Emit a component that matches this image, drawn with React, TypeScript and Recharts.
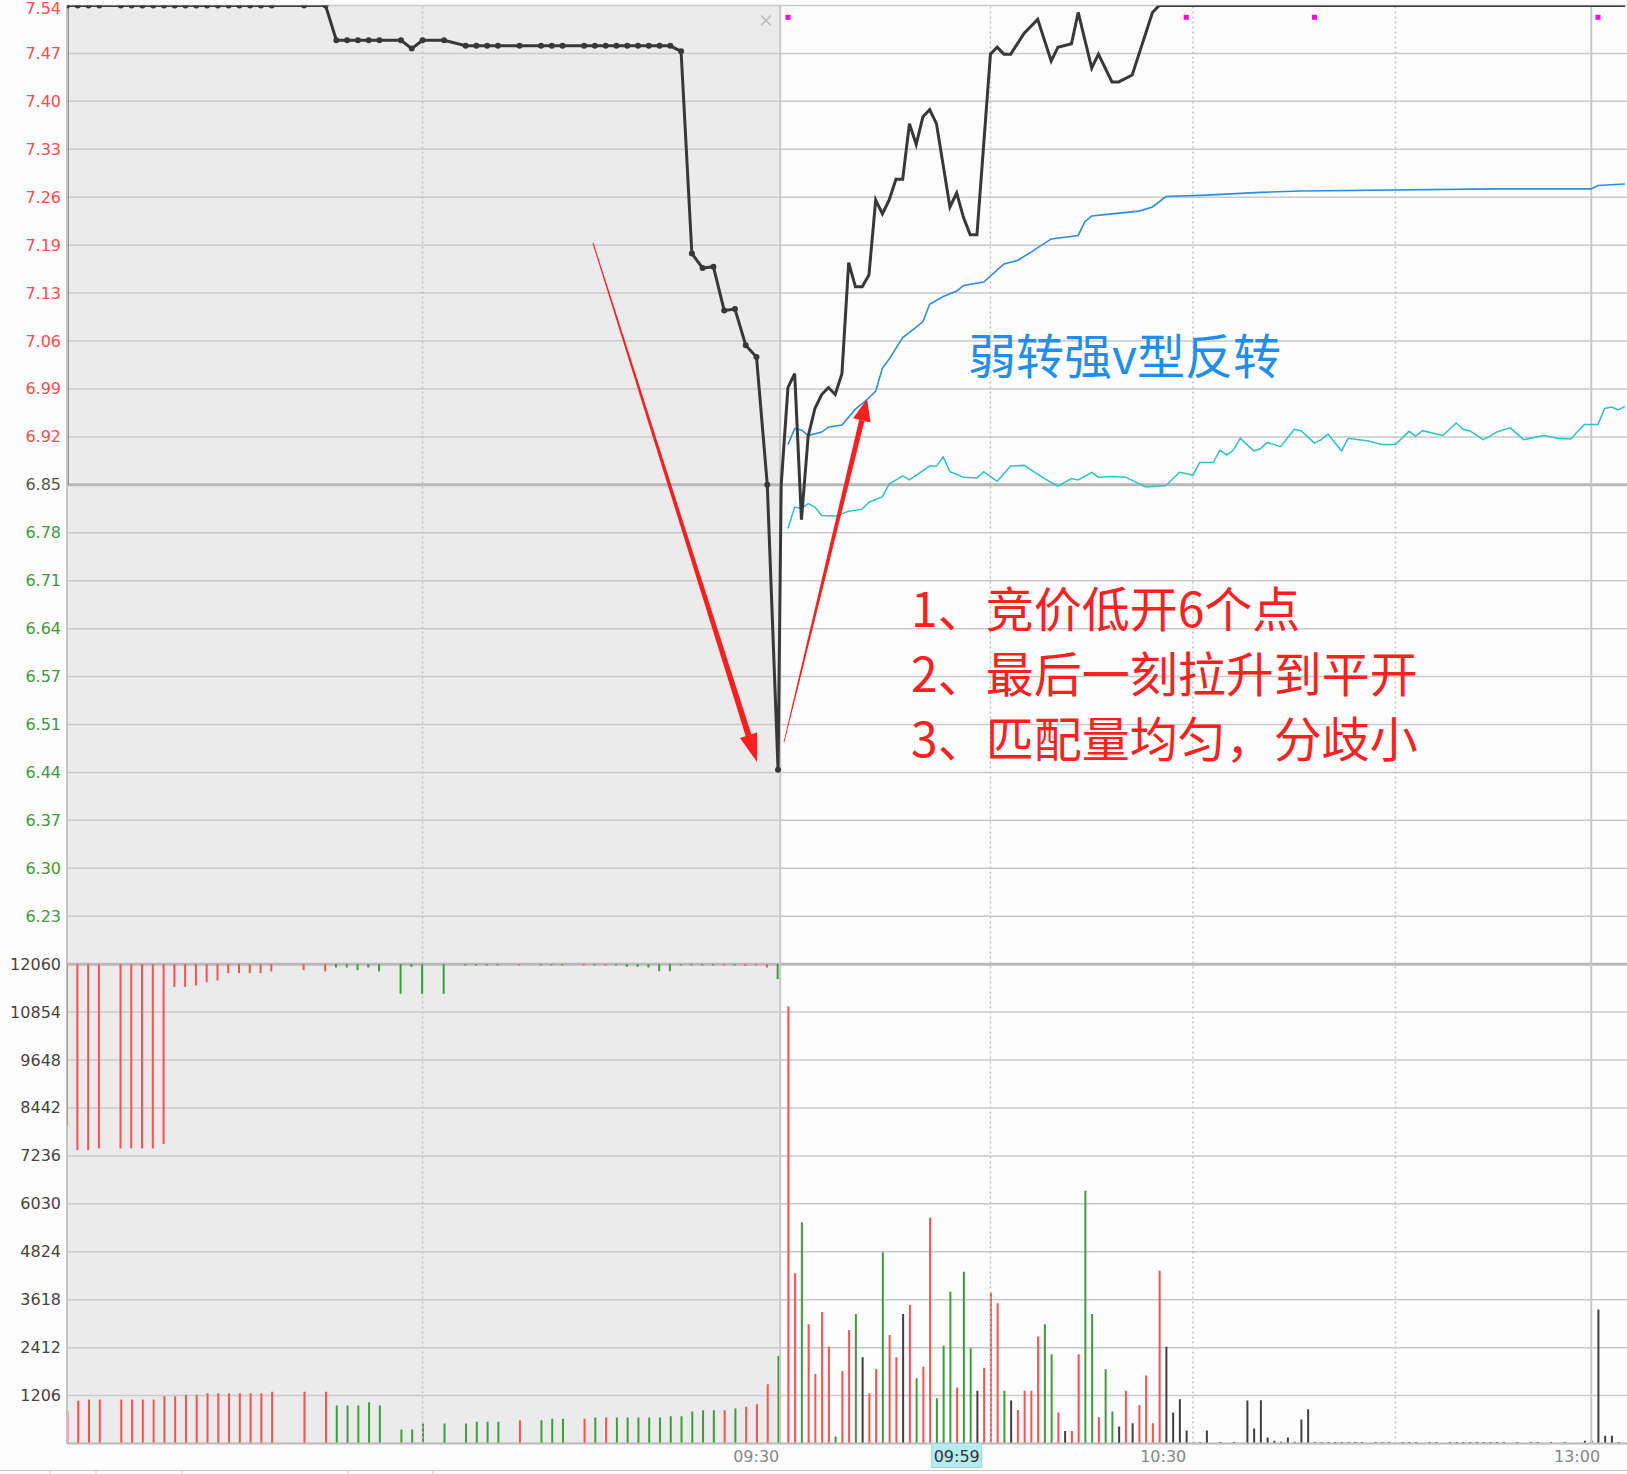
import React from "react";
import {
  ComposedChart,
  Line,
  Bar,
  Cell,
  Scatter,
  XAxis,
  YAxis,
  CartesianGrid,
  ReferenceLine,
  ReferenceArea,
} from "recharts";

const W = 1627;
const H = 1474;
const PLOT_LEFT = 67;
const PLOT_TOP = 5.5;
const AXIS_H = 30.5;

// price panel: 7.54 at the top, 20 steps down to 6.16, then 10 more steps for the volume panel
const PREV_CLOSE = 6.85;
const PRICE_MAX = 7.54;
const PRICE_STEP = 0.069;
const PRICE_MIN = PRICE_MAX - 30 * PRICE_STEP;
const VOL_STEP = 1206;
const VOL_TOP = 12060;
const VOL_MAX = VOL_TOP * 3;

// x axis: auction slots (shaded part) are drawn wider than session minutes
const X_MIN = -105.8;
const X_MAX = 125.3;
const AUCTION_STEP = 1.596;
const OPEN_POS = -0.15;
const auctionPos = (k: number) => X_MIN + k * AUCTION_STEP;

const priceLabels = [
  "7.54", "7.47", "7.40", "7.33", "7.26", "7.19", "7.13", "7.06", "6.99", "6.92",
  "6.85", "6.78", "6.71", "6.64", "6.57", "6.51", "6.44", "6.37", "6.30", "6.23",
];
const volumeLabels = ["12060", "10854", "9648", "8442", "7236", "6030", "4824", "3618", "2412", "1206"];
// time labels sit just left of their grid lines
const timeLabels: [number, string][] = [
  [-3.7, "09:30"],
  [56.6, "10:30"],
  [117.9, "13:00"],
];
const cursorTime: [number, string] = [26, "09:59"];

// call auction: [slot, price]
const auctionPrice: [number, number][] = [
  [0, 7.54], [1, 7.54], [2, 7.54], [3, 7.54], [5, 7.54], [6, 7.54], [7, 7.54], [8, 7.54],
  [9, 7.54], [10, 7.54], [11, 7.54], [12, 7.54], [13, 7.54], [14, 7.54], [15, 7.54],
  [16, 7.54], [17, 7.54], [18, 7.54], [19, 7.54], [22, 7.54], [24, 7.54],
  [25, 7.49], [26, 7.49], [27, 7.49], [28, 7.49], [29, 7.49], [31, 7.49], [32, 7.478],
  [33, 7.49], [35, 7.49], [37, 7.482], [38, 7.482], [39, 7.482], [40, 7.482], [42, 7.482],
  [44, 7.482], [45, 7.482], [46, 7.482], [48, 7.482], [49, 7.482], [50, 7.482], [51, 7.482],
  [52, 7.482], [53, 7.482], [54, 7.482], [55, 7.482], [56, 7.482], [57, 7.474],
  [58, 7.183], [59, 7.162], [60, 7.164], [61, 7.101], [62, 7.103], [63, 7.051], [64, 7.034],
  [65, 6.85], [66, 6.44],
];

// call auction matched volume: [slot, volume, colour]
const auctionVol: [number, number, string][] = [
  [0, 813, "r"], [1, 1073, "r"], [2, 1106, "r"], [3, 1106, "r"], [5, 1106, "r"], [6, 1106, "r"],
  [7, 1106, "r"], [8, 1106, "r"], [9, 1190, "r"], [10, 1190, "r"], [11, 1224, "r"], [12, 1224, "r"],
  [13, 1266, "r"], [14, 1266, "r"], [15, 1266, "r"], [16, 1266, "r"], [17, 1266, "r"], [18, 1266, "r"],
  [19, 1299, "r"], [22, 1299, "r"], [24, 1299, "r"], [25, 956, "g"], [26, 956, "g"], [27, 956, "g"],
  [28, 1039, "g"], [29, 956, "g"], [31, 352, "g"], [32, 352, "g"], [33, 503, "g"], [35, 503, "g"],
  [37, 503, "g"], [38, 545, "g"], [39, 545, "g"], [40, 545, "g"], [42, 587, "r"], [44, 587, "g"],
  [45, 620, "g"], [46, 620, "g"], [48, 620, "r"], [49, 654, "g"], [50, 654, "r"], [51, 654, "g"],
  [52, 654, "g"], [53, 654, "g"], [54, 654, "g"], [55, 654, "g"], [56, 687, "g"], [57, 687, "g"],
  [58, 805, "g"], [59, 838, "g"], [60, 838, "g"], [61, 838, "r"], [62, 880, "g"], [63, 922, "r"],
  [64, 989, "r"], [65, 1492, "r"], [66, 2204, "g"],
];

// call auction unmatched volume, hanging from the 12060 line: [slot, volume, colour]
const auctionUnmatched: [number, number, string][] = [
  [0, 4066, "r"], [1, 4677, "r"], [2, 4677, "r"], [3, 4635, "r"], [5, 4635, "r"], [6, 4635, "r"],
  [7, 4635, "r"], [8, 4635, "r"], [9, 4526, "r"], [10, 570, "r"], [11, 570, "r"], [12, 536, "r"],
  [13, 453, "r"], [14, 411, "r"], [15, 226, "r"], [16, 226, "r"], [17, 226, "r"], [18, 226, "r"],
  [19, 184, "r"], [22, 151, "r"], [24, 184, "r"], [25, 84, "g"], [26, 84, "g"], [27, 151, "g"],
  [28, 84, "g"], [29, 184, "g"], [31, 746, "g"], [32, 67, "g"], [33, 746, "g"], [35, 746, "g"],
  [37, 30, "g"], [38, 30, "g"], [39, 30, "g"], [40, 30, "g"], [42, 30, "r"], [44, 30, "g"],
  [45, 30, "g"], [46, 30, "g"], [48, 30, "r"], [49, 30, "g"], [50, 30, "r"], [51, 30, "g"],
  [52, 67, "g"], [53, 67, "g"], [54, 84, "g"], [55, 176, "g"], [56, 176, "g"], [57, 30, "g"],
  [58, 30, "g"], [59, 30, "g"], [60, 30, "g"], [61, 30, "r"], [62, 30, "g"], [63, 42, "r"],
  [64, 30, "r"], [65, 84, "r"], [66, 377, "g"],
];

// continuous session: [minute, price]
const sessionPrice: [number, number][] = [
  [0, 6.85], [1, 6.99], [2, 7.01], [3, 6.8], [4, 6.92], [5, 6.96], [6, 6.98], [7, 6.99],
  [8, 6.98], [9, 7.01], [10, 7.17], [11, 7.135], [12, 7.135], [13, 7.152], [14, 7.26],
  [15, 7.24], [16, 7.26], [17, 7.29], [18, 7.29], [19, 7.37], [20, 7.34], [21, 7.38],
  [22, 7.39], [23, 7.37], [25, 7.25], [26, 7.27], [27, 7.235], [28, 7.21], [29, 7.21],
  [31, 7.47], [32, 7.48], [33, 7.47], [34, 7.47], [36, 7.5], [38, 7.52], [40, 7.46],
  [41, 7.48], [43, 7.485], [44, 7.53], [46, 7.45], [47, 7.47], [49, 7.43], [50, 7.43],
  [52, 7.44], [53, 7.47], [55, 7.53], [56, 7.54], [125, 7.54],
];

const avgPrice: [number, number][] = [
  [1, 6.908], [2, 6.931], [3, 6.929], [4, 6.921], [6, 6.926], [7, 6.933], [9, 6.936],
  [11, 6.959], [13, 6.975], [14, 6.985], [15, 7.018], [16, 7.031], [18, 7.062], [20, 7.077],
  [21, 7.085], [22, 7.11], [24, 7.121], [26, 7.129], [27, 7.137], [30, 7.142], [33, 7.168],
  [35, 7.173], [37, 7.185], [40, 7.204], [44, 7.209], [45, 7.229], [46, 7.237], [49, 7.24],
  [53, 7.244], [55, 7.25], [57, 7.265], [63, 7.267], [71, 7.271], [77, 7.273], [106, 7.276],
  [120, 7.276], [121, 7.281], [125, 7.283],
];

const overlayLine: [number, number][] = [
  [1, 6.787], [2, 6.818], [3, 6.816], [4, 6.823], [5, 6.818], [6, 6.806], [8, 6.805],
  [10, 6.812], [12, 6.815], [13, 6.825], [15, 6.833], [16, 6.851], [18, 6.863], [19, 6.857],
  [22, 6.877], [23, 6.877], [24, 6.89], [25, 6.869], [27, 6.861], [29, 6.86], [30, 6.869],
  [32, 6.855], [34, 6.877], [36, 6.878], [39, 6.859], [41, 6.848], [43, 6.859], [44, 6.857],
  [46, 6.868], [47, 6.861], [49, 6.862], [51, 6.861], [54, 6.847], [57, 6.849], [59, 6.868],
  [61, 6.864], [62, 6.882], [64, 6.882], [65, 6.9], [66, 6.893], [67, 6.9], [68, 6.917],
  [70, 6.899], [71, 6.902], [72, 6.911], [74, 6.905], [76, 6.93], [77, 6.928], [79, 6.91],
  [80, 6.915], [81, 6.923], [83, 6.899], [84, 6.917], [87, 6.913], [89, 6.908], [91, 6.908],
  [93, 6.927], [94, 6.92], [95, 6.928], [98, 6.921], [100, 6.939], [101, 6.93], [102, 6.928],
  [104, 6.915], [105, 6.92], [106, 6.926], [108, 6.932], [110, 6.915], [113, 6.921],
  [115, 6.917], [117, 6.916], [118, 6.927], [119, 6.937], [121, 6.937], [122, 6.96],
  [123, 6.962], [124, 6.958], [125, 6.963],
];

// session volume: [minute, volume, colour]
const sessionVol: [number, number, string][] = [
  [1, 11000, "r"], [2, 4282, "r"], [3, 5565, "g"], [4, 3000, "r"], [5, 1750, "r"], [6, 3309, "r"],
  [7, 2437, "r"], [8, 174, "g"], [9, 1826, "r"], [10, 2857, "r"], [11, 3259, "g"], [12, 2170, "k"],
  [13, 1265, "r"], [14, 1868, "r"], [15, 4810, "g"], [16, 2731, "r"], [17, 2170, "r"], [18, 3259, "k"],
  [19, 3485, "r"], [20, 1642, "g"], [21, 1934, "r"], [22, 5681, "r"], [23, 1139, "g"], [24, 2462, "g"],
  [25, 3820, "g"], [26, 1406, "r"], [27, 4323, "g"], [28, 2396, "g"], [29, 1330, "k"], [30, 1909, "r"],
  [31, 3795, "r"], [32, 3528, "r"], [33, 1330, "g"], [34, 1079, "k"], [35, 845, "r"], [36, 1330, "r"],
  [37, 1330, "r"], [38, 2689, "r"], [39, 3000, "g"], [40, 2245, "g"], [41, 777, "r"], [42, 317, "k"],
  [43, 317, "r"], [44, 2245, "r"], [45, 6360, "g"], [46, 3259, "g"], [47, 661, "r"], [48, 1868, "g"],
  [49, 802, "g"], [50, 425, "k"], [51, 1330, "r"], [52, 510, "k"], [53, 970, "r"], [54, 1708, "r"],
  [55, 510, "r"], [56, 4348, "r"], [57, 2437, "k"], [58, 777, "k"], [59, 1113, "k"], [60, 324, "k"],
  [61, 40, "k"], [62, 40, "k"], [63, 324, "k"], [65, 40, "k"], [67, 40, "k"], [69, 1079, "k"],
  [70, 377, "k"], [71, 1090, "k"], [72, 151, "k"], [73, 67, "k"], [74, 42, "k"], [75, 151, "k"],
  [76, 42, "k"], [77, 603, "k"], [78, 863, "k"], [79, 40, "k"], [80, 40, "k"], [81, 40, "k"],
  [82, 40, "k"], [83, 40, "k"], [84, 40, "k"], [85, 40, "k"], [86, 40, "k"], [88, 40, "k"],
  [89, 40, "k"], [90, 40, "k"], [92, 40, "k"], [93, 40, "k"], [94, 40, "k"], [96, 40, "k"],
  [97, 40, "k"], [99, 40, "k"], [100, 40, "k"], [101, 40, "k"], [102, 40, "k"], [103, 40, "k"],
  [104, 40, "k"], [105, 40, "k"], [106, 40, "k"], [107, 40, "k"], [109, 40, "k"], [111, 40, "k"],
  [112, 40, "k"], [114, 40, "k"], [116, 40, "k"], [119, 67, "k"], [120, 67, "k"], [121, 3372, "k"],
  [122, 193, "k"], [123, 193, "k"], [124, 40, "k"],
];

// little magenta event markers near the top
const markerMinutes = [1, 60, 79, 121];
const markerPrice = 7.523;

const VOL_COLORS: Record<string, string> = { r: "#ff4f4f", g: "#3a9e3a", k: "#404040" };
const NUM_FONT = "DejaVu Sans";
const CJK_FONT = "Noto Sans CJK SC";

// one grid line per step; the lower ten coincide with the volume ticks
const gridTicks = Array.from({ length: 31 }, (_, i) => PRICE_MAX - i * PRICE_STEP);

const priceSeries = [
  { pos: X_MIN, p: PREV_CLOSE, dot: false },
  ...auctionPrice.map(([k, p]) => ({ pos: auctionPos(k), p, dot: true })),
  ...sessionPrice.map(([m, p]) => ({ pos: m, p, dot: false })),
];
const avgSeries = avgPrice.map(([m, p]) => ({ pos: m, p }));
const overlaySeries = overlayLine.map(([m, p]) => ({ pos: m, p }));
const markerSeries = markerMinutes.map((m) => ({ pos: m, p: markerPrice }));

const volData = [
  ...auctionVol.map(([k, v, c]) => ({ pos: auctionPos(k), vol: v, color: VOL_COLORS[c] })),
  ...sessionVol.map(([m, v, c]) => ({ pos: m, vol: v, color: VOL_COLORS[c] })),
];
const hangData = auctionUnmatched.map(([k, v, c]) => ({
  pos: auctionPos(k),
  range: [VOL_TOP - v, VOL_TOP],
  color: VOL_COLORS[c],
}));

const findIndex = (list: number[], v: number) =>
  list.findIndex((t) => Math.abs(t - v) < 1e-6);

const LeftTick = (props: any) => {
  const { y, payload } = props;
  const i = findIndex(gridTicks, payload.value);
  if (i < 0) return <g />;
  let label = "";
  let fill = "#444444";
  if (i < priceLabels.length) {
    label = priceLabels[i];
    fill = i === 10 ? "#555555" : gridTicks[i] > PREV_CLOSE ? "#ff4c4c" : "#3d9b3d";
  } else if (i - priceLabels.length < volumeLabels.length) {
    label = volumeLabels[i - priceLabels.length];
  } else {
    return <g />;
  }
  return (
    <text
      x={PLOT_LEFT - 6}
      y={i === 0 ? y + 2.5 : y}
      textAnchor="end"
      dominantBaseline="central"
      fontSize={16}
      fontFamily={NUM_FONT}
      fill={fill}
    >
      {label}
    </text>
  );
};

const TimeTick = (props: any) => {
  const { x, y, payload } = props;
  if (payload.value === cursorTime[0]) {
    return (
      <g>
        <rect x={x - 25} y={y} width={50} height={24} fill="#b4ecef" stroke="#9fd6da" />
        <text x={x} y={y + 12.5} textAnchor="middle" dominantBaseline="central" fontSize={16} fontFamily={NUM_FONT} fill="#333333">
          {cursorTime[1]}
        </text>
      </g>
    );
  }
  const label = timeLabels.find(([m]) => m === payload.value);
  if (!label) return <g />;
  return (
    <text x={x} y={y + 13} textAnchor="middle" dominantBaseline="central" fontSize={16} fontFamily={NUM_FONT} fill="#888888">
      {label[1]}
    </text>
  );
};

const AuctionDot = (props: any) => {
  const { cx, cy, payload, index } = props;
  if (!payload || !payload.dot) return <g key={index} />;
  return <circle key={index} cx={cx} cy={cy} r={3} fill="#383838" />;
};

const MarkerShape = (props: any) => (
  <rect x={props.cx - 2.5} y={props.cy - 2.5} width={5} height={5} fill="#ff00ff" />
);

// tapered annotation arrow
const Arrow = ({ from, to, w0, w1, headLen, headHalf }: any) => {
  const dx = to[0] - from[0];
  const dy = to[1] - from[1];
  const len = Math.hypot(dx, dy);
  const ux = dx / len;
  const uy = dy / len;
  const nx = -uy;
  const ny = ux;
  const bx = to[0] - ux * headLen;
  const by = to[1] - uy * headLen;
  const shaft = [
    [from[0] + nx * w0, from[1] + ny * w0],
    [bx + nx * w1, by + ny * w1],
    [bx - nx * w1, by - ny * w1],
    [from[0] - nx * w0, from[1] - ny * w0],
  ];
  const head = [
    [bx + nx * headHalf, by + ny * headHalf],
    [to[0], to[1]],
    [bx - nx * headHalf, by - ny * headHalf],
  ];
  const pts = (a: number[][]) => a.map((p) => p.join(",")).join(" ");
  return (
    <g fill="#ff1e1e">
      <polygon points={pts(shaft)} />
      <polygon points={pts(head)} />
    </g>
  );
};

const layer: React.CSSProperties = { position: "absolute", left: 0, top: 0 };
const hiddenMargin = { top: PLOT_TOP, right: 0, bottom: AXIS_H, left: PLOT_LEFT };

const App = () => {
  return (
    <div style={{ position: "absolute", left: 0, top: 0, width: W, height: H, background: "#fdfdfd", overflow: "hidden" }}>
      {/* shaded call-auction zone */}
      <div style={layer}>
        <ComposedChart width={W} height={H} data={volData} margin={hiddenMargin}>
          <XAxis dataKey="pos" type="number" domain={[X_MIN, X_MAX]} allowDataOverflow hide />
          <YAxis yAxisId="p" domain={[PRICE_MIN, PRICE_MAX]} allowDataOverflow hide />
          <ReferenceArea yAxisId="p" x1={X_MIN} x2={OPEN_POS} fill="#ebebeb" fillOpacity={1} stroke="none" />
        </ComposedChart>
      </div>

      {/* main chart */}
      <div style={layer}>
        <ComposedChart width={W} height={H} data={volData} margin={{ top: PLOT_TOP, right: 0, bottom: 0, left: 0 }}>
          <CartesianGrid yAxisId="p" vertical={false} stroke="#cacaca" strokeWidth={1.5} />
          <XAxis
            dataKey="pos"
            type="number"
            domain={[X_MIN, X_MAX]}
            allowDataOverflow
            ticks={[timeLabels[0][0], cursorTime[0], timeLabels[1][0], timeLabels[2][0]]}
            interval={0}
            tick={<TimeTick />}
            tickLine={false}
            tickSize={0}
            tickMargin={0}
            height={AXIS_H}
            axisLine={{ stroke: "#bdbdbd", strokeWidth: 2 }}
          />
          <YAxis
            yAxisId="p"
            domain={[PRICE_MIN, PRICE_MAX]}
            allowDataOverflow
            ticks={gridTicks}
            interval={0}
            tick={<LeftTick />}
            tickLine={false}
            width={PLOT_LEFT}
            axisLine={{ stroke: "#c4c4c4", strokeWidth: 2 }}
          />
          <YAxis yAxisId="v" domain={[0, VOL_MAX]} allowDataOverflow hide />
          <ReferenceLine yAxisId="p" y={PREV_CLOSE} stroke="#b8b8b8" strokeWidth={3} />
          <ReferenceLine yAxisId="p" y={PRICE_MAX - 20 * PRICE_STEP} stroke="#b8b8b8" strokeWidth={3} />
          <ReferenceLine yAxisId="p" x={auctionPos(33)} stroke="#c2c2c2" strokeWidth={1.5} strokeDasharray="2 3" />
          <ReferenceLine yAxisId="p" x={OPEN_POS} stroke="#c8c8c8" strokeWidth={2} />
          <ReferenceLine yAxisId="p" x={31} stroke="#c2c2c2" strokeWidth={1.5} strokeDasharray="2 3" />
          <ReferenceLine yAxisId="p" x={61} stroke="#c2c2c2" strokeWidth={1.5} strokeDasharray="2 3" />
          <ReferenceLine yAxisId="p" x={91} stroke="#c2c2c2" strokeWidth={1.5} strokeDasharray="2 3" />
          <ReferenceLine yAxisId="p" x={120} stroke="#c8c8c8" strokeWidth={2} />

          <Bar yAxisId="v" dataKey="vol" barSize={2} isAnimationActive={false}>
            {volData.map((d, i) => (
              <Cell key={i} fill={d.color} />
            ))}
          </Bar>

          <Line
            yAxisId="p"
            data={overlaySeries}
            dataKey="p"
            type="linear"
            stroke="#2cc4c8"
            strokeWidth={1.5}
            dot={false}
            isAnimationActive={false}
          />
          <Line
            yAxisId="p"
            data={avgSeries}
            dataKey="p"
            type="linear"
            stroke="#2b8de6"
            strokeWidth={1.6}
            dot={false}
            isAnimationActive={false}
          />
          <Line
            yAxisId="p"
            data={priceSeries}
            dataKey="p"
            type="linear"
            stroke="#383838"
            strokeWidth={3}
            dot={<AuctionDot />}
            activeDot={false}
            isAnimationActive={false}
          />
          <Scatter yAxisId="p" data={markerSeries} dataKey="p" shape={<MarkerShape />} isAnimationActive={false} />
        </ComposedChart>
      </div>

      {/* unmatched auction volume hanging from the top of the volume panel */}
      <div style={layer}>
        <ComposedChart width={W} height={H} data={hangData} margin={hiddenMargin}>
          <XAxis dataKey="pos" type="number" domain={[X_MIN, X_MAX]} allowDataOverflow hide />
          <YAxis yAxisId="v" domain={[0, VOL_MAX]} allowDataOverflow hide />
          <Bar yAxisId="v" dataKey="range" barSize={2} isAnimationActive={false}>
            {hangData.map((d, i) => (
              <Cell key={i} fill={d.color} />
            ))}
          </Bar>
        </ComposedChart>
      </div>

      {/* annotations */}
      <svg width={W} height={H} style={{ ...layer, pointerEvents: "none" }}>
        <g stroke="#b8b8b8" strokeWidth={1.3}>
          <line x1={761} y1={15.5} x2={771} y2={25.5} />
          <line x1={771} y1={15.5} x2={761} y2={25.5} />
        </g>
        <line x1={0} x2={W} y1={1470.5} y2={1470.5} stroke="#c8c8c8" />
        {[50, 96, 182, 348, 433].map((x) => (
          <line key={x} x1={x} x2={x} y1={1471} y2={1474} stroke="#c8c8c8" />
        ))}
        <Arrow from={[593, 243]} to={[757, 762]} w0={0.5} w1={3} headLen={28} headHalf={9} />
        <Arrow from={[784, 742]} to={[867, 399]} w0={0.4} w1={2.7} headLen={22} headHalf={9} />
        <text x={968} y={353} fontSize={48} fontFamily={CJK_FONT} fill="#1e8ff0" dominantBaseline="central">
          弱转强v型反转
        </text>
        <g fontSize={48} fontFamily={CJK_FONT} fill="#ff2020">
          <text x={911} y={606} dominantBaseline="central">1、竞价低开6个点</text>
          <text x={911} y={671} dominantBaseline="central">2、最后一刻拉升到平开</text>
          <text x={911} y={736} dominantBaseline="central">3、匹配量均匀，分歧小</text>
        </g>
      </svg>
    </div>
  );
};

export default App;
